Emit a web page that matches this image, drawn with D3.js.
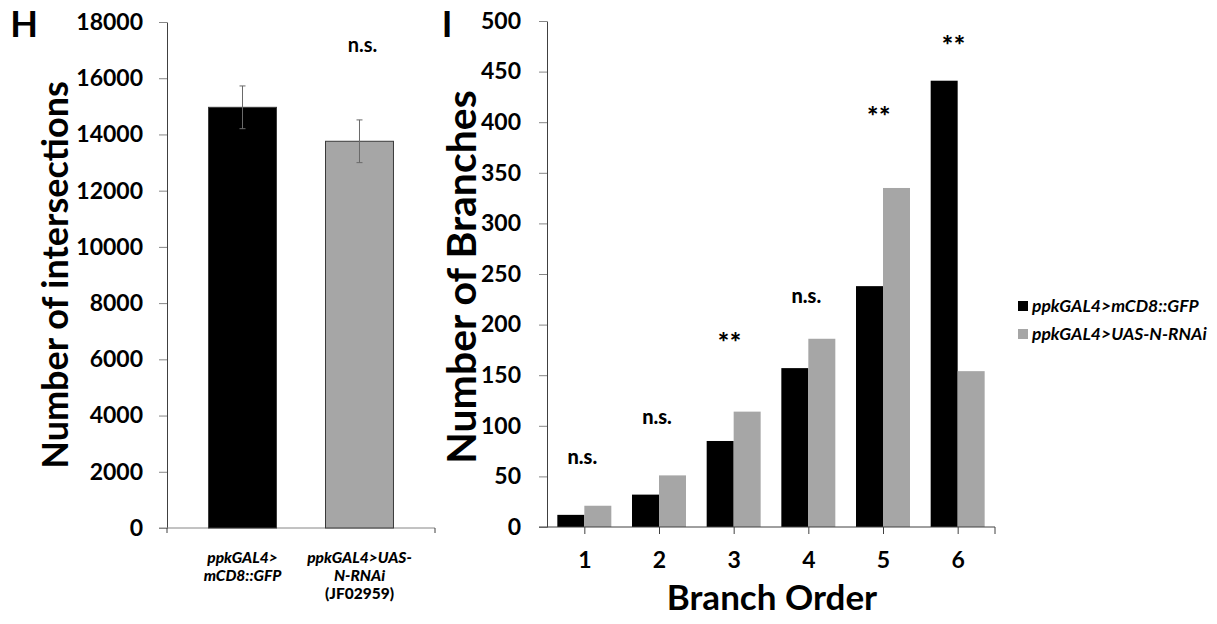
<!DOCTYPE html>
<html><head><meta charset="utf-8">
<script src="https://cdn.jsdelivr.net/npm/d3@7"></script>
<style>
body{margin:0;background:#fff}
svg text{font-family:Lato,"Open Sans",sans-serif;font-weight:700;fill:#000}
</style>
</head><body><svg id="c" width="1217" height="624"></svg>
<script>
// ---- data ----
const genotypes = ["ppkGAL4>mCD8::GFP", "ppkGAL4>UAS-N-RNAi"];
const genotypeLabelLines = [["ppkGAL4>", "mCD8::GFP"], ["ppkGAL4>UAS-", "N-RNAi", "(JF02959)"]];
const intersections = [14965, 13757];
const intersectionsErr = [760, 760];
const intersectionTicks = [0, 2000, 4000, 6000, 8000, 10000, 12000, 14000, 16000, 18000];
const intersectionSig = "n.s.";
const intersectionSigLevel = 17180;

const branchOrders = ["1", "2", "3", "4", "5", "6"];
const controlBranches = [12, 32, 85, 157, 238, 441];
const rnaiBranches = [21, 51, 114, 186, 335, 154];
const branchTicks = [0, 50, 100, 150, 200, 250, 300, 350, 400, 450, 500];
const branchSig = ["n.s.", "n.s.", "**", "n.s.", "**", "**"];
const branchSigLevel = [69, 109, 189, 228, 413, 483];
const seriesColors = ["#000000", "#a6a6a6"];

const svg = d3.select("#c");
const axisCol = "#404040", tickCol = "#868686";
const fmt = d3.format("d");

// ================= Panel H =================
{
  const x = d3.scaleBand().domain(genotypes).range([167, 435]).paddingInner(0.419).paddingOuter(0.355);
  const y = d3.scaleLinear().domain([0, 18000]).range([528, 22]);
  const g = svg.append("g");

  const ya = g.append("g").attr("transform", "translate(167,0)")
    .call(d3.axisLeft(y).tickValues(intersectionTicks).tickFormat(fmt).tickSize(8).tickPadding(16).tickSizeOuter(0));
  ya.select(".domain").attr("stroke", axisCol);
  ya.selectAll(".tick line").attr("stroke", tickCol);
  ya.selectAll(".tick text").style("font-size", "23px").attr("fill", "#000");

  // x baseline
  g.append("line").attr("x1", 159).attr("x2", 435).attr("y1", y(0)).attr("y2", y(0)).attr("stroke", tickCol);
  [167, 435].forEach(v => g.append("line").attr("x1", v).attr("x2", v).attr("y1", y(0)).attr("y2", y(0) + 5).attr("stroke", axisCol));

  g.selectAll("rect.bar").data(genotypes).join("rect")
    .attr("x", d => x(d)).attr("width", x.bandwidth())
    .attr("y", (d, i) => y(intersections[i])).attr("height", (d, i) => y(0) - y(intersections[i]))
    .attr("fill", (d, i) => seriesColors[i]).attr("stroke", "#3a3a3a").attr("stroke-width", 1);

  // error bars
  genotypes.forEach((d, i) => {
    const cx = x(d) + x.bandwidth() / 2;
    const hi = y(intersections[i] + intersectionsErr[i]), lo = y(intersections[i] - intersectionsErr[i]);
    g.append("line").attr("x1", cx).attr("x2", cx).attr("y1", hi).attr("y2", lo).attr("stroke", "#6a6a6a");
    [hi, lo].forEach(v => g.append("line").attr("x1", cx - 3).attr("x2", cx + 3).attr("y1", v).attr("y2", v).attr("stroke", "#6a6a6a"));
  });

  // category labels
  genotypeLabelLines.forEach((lines, i) => {
    const cx = x(genotypes[i]) + x.bandwidth() / 2;
    lines.forEach((t, j) => {
      g.append("text").attr("x", cx).attr("y", 563 + j * 18).attr("text-anchor", "middle")
        .style("font-size", "15.5px").style("font-weight", 900)
        .style("font-style", t.startsWith("(") ? "normal" : "italic").text(t);
    });
  });

  g.append("text").attr("x", x(genotypes[1]) + x.bandwidth() / 2 + 3).attr("y", y(intersectionSigLevel))
    .attr("dy", "0.35em").attr("text-anchor", "middle").style("font-size", "20px").text(intersectionSig);

  g.append("text").attr("transform", "translate(55,275) rotate(-90)").attr("text-anchor", "middle")
    .attr("dy", "0.35em").style("font-size", "36px").text("Number of intersections");
  g.append("text").attr("x", 24).attr("y", 24).attr("text-anchor", "middle").attr("dy", "0.35em")
    .style("font-size", "36px").text("H");
}

// ================= Panel I =================
{
  const x0 = d3.scaleBand().domain(branchOrders).range([547, 995]).paddingInner(0.277).paddingOuter(0.1385);
  const x1 = d3.scaleBand().domain([0, 1]).range([0, x0.bandwidth()]);
  const y = d3.scaleLinear().domain([0, 500]).range([527, 21]);
  const g = svg.append("g");

  const ya = g.append("g").attr("transform", "translate(547,0)")
    .call(d3.axisLeft(y).tickValues(branchTicks).tickFormat(fmt).tickSize(8).tickPadding(18).tickSizeOuter(0));
  ya.select(".domain").attr("stroke", axisCol);
  ya.selectAll(".tick line").attr("stroke", tickCol);
  ya.selectAll(".tick text").style("font-size", "23px").attr("fill", "#000");

  const series = [controlBranches, rnaiBranches];
  series.forEach((vals, s) => {
    g.selectAll("rect.s" + s).data(branchOrders).join("rect")
      .attr("x", d => x0(d) + x1(s)).attr("width", x1.bandwidth())
      .attr("y", (d, i) => y(vals[i])).attr("height", (d, i) => y(0) - y(vals[i]))
      .attr("fill", seriesColors[s]);
  });

  const xs = d3.scalePoint().domain(branchOrders).range([x0.step() / 2 + 547, 995 - x0.step() / 2]);
  const xa = g.append("g").attr("transform", `translate(0,${y(0)})`)
    .call(d3.axisBottom(xs).tickSize(7).tickPadding(18).tickSizeOuter(0));
  xa.select(".domain").remove();
  xa.selectAll(".tick line").attr("stroke", axisCol);
  xa.selectAll(".tick text").style("font-size", "23px").attr("fill", "#000");
  g.append("line").attr("x1", 539).attr("x2", 995).attr("y1", y(0)).attr("y2", y(0)).attr("stroke", axisCol);
  g.append("line").attr("x1", 995).attr("x2", 995).attr("y1", y(0)).attr("y2", y(0) + 7).attr("stroke", axisCol);

  branchOrders.forEach((d, i) => {
    const star = branchSig[i] === "**";
    g.append("text").attr("x", xs(d) + (star ? -4 : -2)).attr("y", y(branchSigLevel[i]))
      .attr("dy", star ? "0.62em" : "0.35em").attr("text-anchor", "middle")
      .style("font-size", star ? "27px" : "20px").style("font-weight", 900)
      .style("letter-spacing", star ? "0.5px" : "0").text(branchSig[i]);
  });

  g.append("text").attr("transform", "translate(462,277) rotate(-90)").attr("text-anchor", "middle")
    .attr("dy", "0.35em").style("font-size", "41px").text("Number of Branches");
  g.append("text").attr("x", 772).attr("y", 598).attr("text-anchor", "middle").attr("dy", "0.35em")
    .style("font-size", "35px").text("Branch Order");
  g.append("text").attr("x", 447).attr("y", 24).attr("text-anchor", "middle").attr("dy", "0.35em")
    .style("font-size", "36px").text("I");

  // legend
  const lg = g.append("g").attr("transform", "translate(1018,306)");
  genotypes.forEach((name, i) => {
    lg.append("rect").attr("x", 0).attr("y", i * 28 - 5).attr("width", 10).attr("height", 10).attr("fill", seriesColors[i]);
    lg.append("text").attr("x", 14).attr("y", i * 28).attr("dy", "0.35em").style("font-size", "17.5px")
      .style("font-style", "italic").text(name);
  });
}
</script></body></html>
